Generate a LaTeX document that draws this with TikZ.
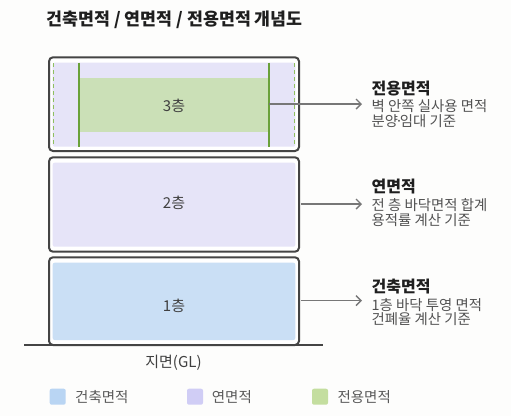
\documentclass[tikz,border=0pt]{standalone}
\usepackage{fontspec}
\setmainfont{Noto Sans CJK KR}
\usetikzlibrary{arrows.meta}
\definecolor{bg}{HTML}{FDFDFC}
\definecolor{frame}{HTML}{444444}
\definecolor{lav}{HTML}{E6E4F8}
\definecolor{sky}{HTML}{CADFF5}
\definecolor{leaf}{HTML}{CBE0B7}
\definecolor{leafline}{HTML}{6AA13A}
\definecolor{leafdash}{HTML}{8FBF5F}
\definecolor{arrowc}{HTML}{777777}
\definecolor{lgsky}{HTML}{B9D5F3}
\definecolor{lglav}{HTML}{D0CDF5}
\definecolor{lgleaf}{HTML}{C4DE9F}
\newcommand{\tightdot}{\kern-0.22em·\kern-0.22em}
\tikzset{
  floorbox/.style={draw=frame, line width=2pt, rounded corners=4pt, fill=white},
  innerfill/.style={rounded corners=2pt},
  floortext/.style={text=black!75, font=\fontsize{15}{17}\selectfont},
  conn/.style={draw=arrowc, line width=1.4pt, -{Straight Barb[length=5pt,width=10pt,line width=1.4pt]}},
  labhead/.style={anchor=west, inner sep=0pt, text=black!88, font=\bfseries\fontsize{16}{18}\selectfont},
  labbody/.style={anchor=north west, inner sep=0pt, align=left, text=black!68, font=\fontsize{14.4}{14.8}\selectfont},
  swatch/.style={rounded corners=2pt, minimum size=16pt, inner sep=0pt},
  legtext/.style={anchor=west, inner sep=0pt, text=black!65, font=\fontsize{14.5}{16}\selectfont},
}
\begin{document}
\begin{tikzpicture}[x=1pt,y=-1pt]
\useasboundingbox (0,0) rectangle (511,416);
\fill[bg] (0,0) rectangle (511,416);
% title
\node[anchor=west, inner sep=0pt, text=black!88, font=\bfseries\fontsize{17.3}{19}\selectfont] (title) at (46.5,20) {건축면적 / 연면적 / 전용면적 개념도};
% floor 3
\draw[floorbox] (49,57.3) rectangle (299,151);
\fill[lav, innerfill] (52.7,62.7) rectangle (295.3,146.7);
\node[fill=leaf, inner sep=0pt, minimum width=190pt, minimum height=54pt] (f3green) at (174,104.7) {};
\draw[leafline, line width=2pt] (79,62.7) -- (79,146.7);
\draw[leafline, line width=2pt] (269,62.7) -- (269,146.7);
\draw[leafdash, line width=1.5pt, dash pattern=on 4pt off 3pt] (53.5,63) -- (53.5,146.7);
\draw[leafdash, line width=1.5pt, dash pattern=on 4pt off 3pt] (294.3,63) -- (294.3,146.7);
\node[floortext] (f3) at (174,105.5) {3층};
% floor 2
\draw[floorbox] (49,157.3) rectangle (299,251.7);
\fill[lav, innerfill] (52.7,162.7) rectangle (295.3,246.7);
\node[floortext] (f2) at (174,203) {2층};
% floor 1
\draw[floorbox] (49,257.3) rectangle (299,345);
\fill[sky, innerfill] (52.7,262.7) rectangle (295.3,340);
\node[floortext] (f1) at (174,305.5) {1층};
% ground
\coordinate (gl) at (24,345);
\coordinate (gr) at (323,345);
\draw[frame, line width=1.6pt] (gl) -- (gr);
\node[text=black!75, font=\fontsize{15}{17}\selectfont] (ground) at (173.5,362.5) {지면(GL)};
% labels
\node[labhead] (h3) at (371.5,89) {전용면적};
\node[labbody] (b3) at (371.5,99.5) {벽 안쪽 실사용 면적\\분양\tightdot 임대 기준};
\node[labhead] (h2) at (371.5,186.5) {연면적};
\node[labbody] (b2) at (371.5,198.5) {전 층 바닥면적 합계\\용적률 계산 기준};
\node[labhead] (h1) at (371.5,286.5) {건축면적};
\node[labbody] (b1) at (371.5,298) {1층 바닥 투영 면적\\건폐율 계산 기준};
% connectors
\coordinate (s3) at (269,104);
\coordinate (t3) at (362,104);
\coordinate (s2) at (301,204);
\coordinate (t2) at (362,204);
\coordinate (s1) at (301,300.7);
\coordinate (t1) at (362,300.7);
\draw[conn] (s3) -- (t3);
\draw[conn] (s2) -- (t2);
\draw[conn] (s1) -- (t1);
% legend
\node[swatch, fill=lgsky] (l1) at (57.7,396.7) {};
\node[legtext] (lt1) at (75,396.7) {건축면적};
\node[swatch, fill=lglav] (l2) at (195,396.7) {};
\node[legtext] (lt2) at (211.7,396.7) {연면적};
\node[swatch, fill=lgleaf] (l3) at (320,396.7) {};
\node[legtext] (lt3) at (337.3,396.7) {전용면적};
\end{tikzpicture}
\end{document}
